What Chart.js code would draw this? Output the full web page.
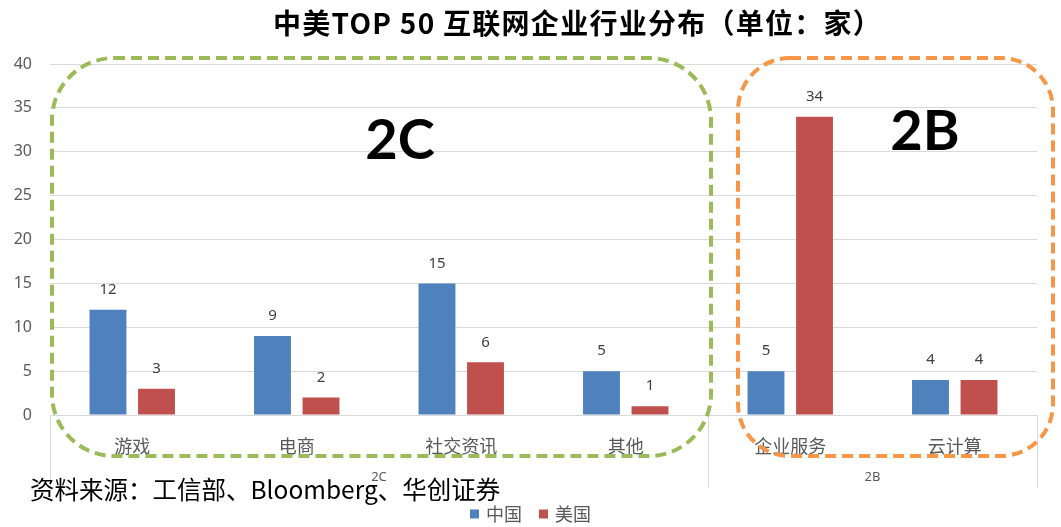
<!DOCTYPE html>
<html>
<head>
<meta charset="utf-8">
<script src="https://cdn.jsdelivr.net/npm/chart.js@4/dist/chart.umd.min.js"></script>
<style>
  html, body { margin: 0; padding: 0; background: #fff; }
  #wrap { width: 1061px; height: 527px; }
</style>
</head>
<body>
<div id="wrap"><canvas id="chart" width="1061" height="527"></canvas></div>
<script>
const categories = ["游戏", "电商", "社交资讯", "其他", "企业服务", "云计算"];
const chinaCounts = [12, 9, 15, 5, 5, 4];
const usCounts = [3, 2, 6, 1, 34, 4];
const groupNames = ["2C", "2B"];
const groupSizes = [4, 2];
const yMax = 40;
const yStep = 5;

const TITLE = "中美TOP 50 互联网企业行业分布（单位：家）";
const SOURCE = "资料来源：工信部、Bloomberg、华创证券";

const BLUE = "#4F81BD";
const RED = "#C0504D";
const GRID = "#D9D9D9";
const TEXT = "#595959";
const CJK = '"Noto Sans CJK SC", "Noto Sans", sans-serif';
const NUM = '"Noto Sans", "Noto Sans CJK SC", sans-serif';

function roundRect(ctx, x, y, w, h, r){
  ctx.beginPath();
  ctx.moveTo(x + r, y);
  ctx.lineTo(x + w - r, y);
  ctx.arcTo(x + w, y, x + w, y + r, r);
  ctx.lineTo(x + w, y + h - r);
  ctx.arcTo(x + w, y + h, x + w - r, y + h, r);
  ctx.lineTo(x + r, y + h);
  ctx.arcTo(x, y + h, x, y + h - r, r);
  ctx.lineTo(x, y + r);
  ctx.arcTo(x, y, x + r, y, r);
  ctx.closePath();
}

// everything Chart.js does not draw by itself: value labels, group row,
// title, source line, legend and the two dashed frames
const extras = {
  id: "extras",
  afterDraw(chart){
    const ctx = chart.ctx;
    const xs = chart.scales.x;
    const ys = chart.scales.y;
    const area = chart.chartArea;
    ctx.save();

    // value labels over the bars
    ctx.font = "15px " + NUM;
    ctx.fillStyle = "#404040";
    ctx.textAlign = "center";
    ctx.textBaseline = "middle";
    chart.data.datasets.forEach((ds, di) => {
      chart.getDatasetMeta(di).data.forEach((bar, i) => {
        ctx.fillText(String(ds.data[i]), bar.x, bar.y - 20);
      });
    });

    // category group separators and group names
    const edge = i => {
      if (i <= 0) return xs.left;
      if (i >= categories.length) return xs.right;
      return (xs.getPixelForValue(i - 1) + xs.getPixelForValue(i)) / 2;
    };
    const bounds = [0];
    groupSizes.forEach(n => bounds.push(bounds[bounds.length - 1] + n));
    ctx.strokeStyle = GRID;
    ctx.lineWidth = 1;
    bounds.forEach(b => {
      const px = Math.round(edge(b)) + 0.5;
      ctx.beginPath();
      ctx.moveTo(px, area.bottom);
      ctx.lineTo(px, area.bottom + 73);
      ctx.stroke();
    });
    ctx.font = "13px " + NUM;
    ctx.fillStyle = TEXT;
    groupNames.forEach((g, k) => {
      const cx = (edge(bounds[k]) + edge(bounds[k + 1])) / 2;
      ctx.fillText(g, cx, area.bottom + 62);
    });

    // source line
    ctx.font = "24.5px " + CJK;
    ctx.fillStyle = "#000";
    ctx.textAlign = "left";
    ctx.fillText(SOURCE, 30, 490);

    // title, stretched to the banner width
    ctx.font = "bold 28px " + CJK;
    ctx.fillStyle = "#000";
    const plain = ctx.measureText(TITLE).width;
    const n = Array.from(TITLE).length;
    ctx.letterSpacing = Math.max(0, (609 - plain) / n).toFixed(2) + "px";
    ctx.fillText(TITLE, 273, 23);
    ctx.letterSpacing = "0px";

    // legend
    ctx.font = "18px " + CJK;
    const items = chart.data.datasets.map(ds => ({ label: ds.label, color: ds.backgroundColor }));
    const box = 9, gap = 7, spacing = 17;
    const widths = items.map(it => box + gap + ctx.measureText(it.label).width);
    const total = widths.reduce((a, b) => a + b, 0) + spacing * (items.length - 1);
    let lx = chart.width / 2 - total / 2;
    const ly = 514;
    items.forEach((it, i) => {
      ctx.fillStyle = it.color;
      ctx.fillRect(lx, ly - box / 2, box, box);
      ctx.fillStyle = TEXT;
      ctx.fillText(it.label, lx + box + gap, ly);
      lx += widths[i] + spacing;
    });

    // dashed frames around the two groups
    const top = ys.getPixelForValue(yMax) - 6;
    const bottom = area.bottom + 41;
    ctx.lineWidth = 4;
    ctx.setLineDash([11, 6]);
    ctx.strokeStyle = "#9BBB59";
    roundRect(ctx, xs.left + 2, top, edge(bounds[1]) - xs.left + 1, bottom - top, 62);
    ctx.stroke();
    ctx.strokeStyle = "#F79646";
    roundRect(ctx, edge(bounds[1]) + 30, top, xs.right + 16 - edge(bounds[1]) - 30, bottom - top, 52);
    ctx.stroke();
    ctx.setLineDash([]);

    // big group captions
    ctx.font = "bold 56px Lato, " + NUM;
    ctx.fillStyle = "#000";
    ctx.textAlign = "center";
    ctx.fillText(groupNames[0], 400, 141);
    ctx.fillText(groupNames[1], 925, 132);

    ctx.restore();
  }
};

new Chart(document.getElementById("chart"), {
  type: "bar",
  data: {
    labels: categories,
    datasets: [
      { label: "中国", data: chinaCounts, backgroundColor: BLUE },
      { label: "美国", data: usCounts, backgroundColor: RED }
    ]
  },
  options: {
    responsive: false,
    animation: false,
    devicePixelRatio: 1,
    layout: { padding: { top: 64, right: 24, left: 0, bottom: 0 } },
    datasets: { bar: { categoryPercentage: 0.59, barPercentage: 0.76 } },
    plugins: {
      legend: { display: false },
      title: { display: false },
      tooltip: { enabled: false }
    },
    scales: {
      x: {
        grid: { display: false },
        border: { color: GRID },
        ticks: { color: TEXT, font: { size: 18, family: CJK }, padding: 12, maxRotation: 0 },
        afterFit(scale){ scale.height = 112; }
      },
      y: {
        min: 0,
        max: yMax,
        ticks: { stepSize: yStep, color: TEXT, font: { size: 16, family: NUM }, padding: 18 },
        grid: { color: GRID, drawTicks: false },
        border: { display: false },
        afterFit(scale){ scale.width = 50; }
      }
    }
  },
  plugins: [extras]
});
</script>
</body>
</html>
